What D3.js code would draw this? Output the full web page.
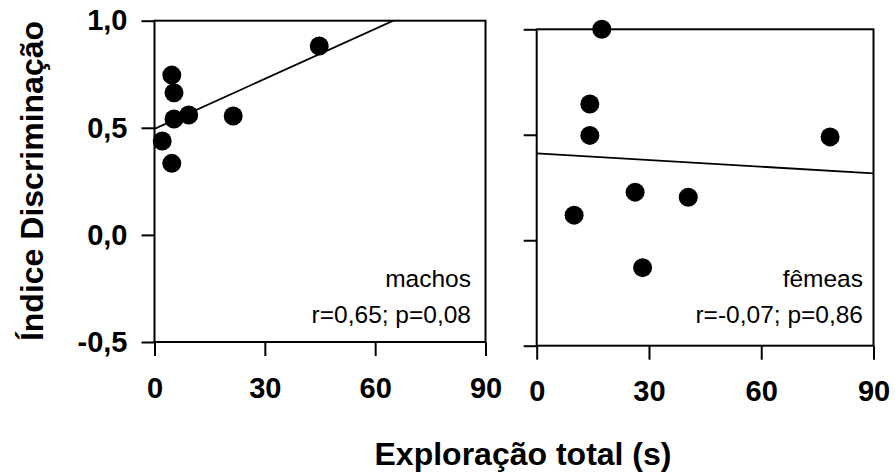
<!DOCTYPE html>
<html>
<head>
<meta charset="utf-8">
<script src="https://cdn.jsdelivr.net/npm/d3@7"></script>
<style>
  body { margin: 0; background: #fff; }
  text { font-family: "Liberation Sans", Arial, sans-serif; fill: #000; }
</style>
</head>
<body>
<div id="chart"></div>
<script>
// values
const machosX = [44.8, 4.7, 5.3, 5.3, 9.3, 21.4, 2.1, 4.7];
const machosY = [0.882, 0.746, 0.664, 0.541, 0.560, 0.555, 0.438, 0.334];
const femeasX = [17.4, 14.2, 14.2, 78.4, 26.3, 40.5, 10.0, 28.3];
const femeasY = [1.0, 0.646, 0.497, 0.490, 0.228, 0.204, 0.119, -0.130];

const xTicks = [0, 30, 60, 90];
const yTicks = [-0.5, 0, 0.5, 1.0];
const xDomain = [0, 90];
const yDomain = [-0.5, 1.0];

const panelNames = ["machos", "fêmeas"];
const statLabels = ["r=0,65; p=0,08", "r=-0,07; p=0,86"];

const width = 895;
const height = 474;

const ptBR = d3.formatLocale({decimal: ",", thousands: ".", grouping: [3], currency: ["", ""], minus: "-"});
const fmtY = ptBR.format(".1f");

const svg = d3.select("#chart").append("svg")
    .attr("width", width)
    .attr("height", height);

// least squares fit
function fit(xs, ys) {
    const mx = d3.mean(xs), my = d3.mean(ys);
    let sxy = 0, sxx = 0;
    xs.forEach((x, i) => { sxy += (x - mx) * (ys[i] - my); sxx += (x - mx) * (x - mx); });
    const b = sxy / sxx;
    return {a: my - b * mx, b: b};
}

function panel(id, xs, ys, box, showYLabels, name, stat) {
    const x = d3.scaleLinear().domain(xDomain).range([box.left, box.right]);
    const y = d3.scaleLinear().domain(yDomain).range([box.bottom, box.top]);
    const g = svg.append("g");

    g.append("clipPath").attr("id", "clip" + id)
        .append("rect")
        .attr("x", box.left).attr("y", box.top)
        .attr("width", box.right - box.left).attr("height", box.bottom - box.top);

    // regression line
    const f = fit(xs, ys);
    g.append("line")
        .attr("clip-path", "url(#clip" + id + ")")
        .attr("x1", x(xDomain[0])).attr("y1", y(f.a + f.b * xDomain[0]))
        .attr("x2", x(xDomain[1])).attr("y2", y(f.a + f.b * xDomain[1]))
        .attr("stroke", "#000").attr("stroke-width", 1.8);

    // points
    g.selectAll("circle.pt")
        .data(xs.map((v, i) => [v, ys[i]]))
        .join("circle")
        .attr("class", "pt")
        .attr("cx", d => x(d[0]))
        .attr("cy", d => y(d[1]))
        .attr("r", 9.5)
        .attr("fill", "#000");

    // frame
    g.append("rect")
        .attr("x", box.left).attr("y", box.top)
        .attr("width", box.right - box.left).attr("height", box.bottom - box.top)
        .attr("fill", "none").attr("stroke", "#000").attr("stroke-width", 2);

    const xAxis = g.append("g")
        .attr("transform", "translate(0," + box.bottom + ")")
        .call(d3.axisBottom(x).tickValues(xTicks).tickSize(14).tickPadding(21).tickFormat(d3.format("d")));
    xAxis.select(".domain").remove();
    xAxis.selectAll("line").attr("stroke-width", 2);
    xAxis.selectAll("text")
        .attr("font-size", 29).attr("font-weight", "bold")
        .attr("font-family", "'Liberation Sans', Arial, sans-serif");

    const yAxis = g.append("g")
        .attr("transform", "translate(" + box.left + ",0)")
        .call(d3.axisLeft(y).tickValues(yTicks).tickSize(13).tickPadding(14)
            .tickFormat(showYLabels ? fmtY : ""));
    yAxis.select(".domain").remove();
    yAxis.selectAll("line").attr("stroke-width", 2);
    yAxis.selectAll("text")
        .attr("font-size", 29).attr("font-weight", "bold")
        .attr("font-family", "'Liberation Sans', Arial, sans-serif");

    g.append("text")
        .attr("x", box.textRight).attr("y", 287)
        .attr("text-anchor", "end").attr("font-size", 24.5)
        .text(name);
    g.append("text")
        .attr("x", box.textRight).attr("y", 323)
        .attr("text-anchor", "end").attr("font-size", 24.5)
        .text(stat);
}

panel("L", machosX, machosY, {left: 154.5, right: 485.5, top: 20.7, bottom: 342, textRight: 471},
    true, panelNames[0], statLabels[0]);
panel("R", femeasX, femeasY, {left: 536.7, right: 873.5, top: 29.3, bottom: 345.7, textRight: 863},
    false, panelNames[1], statLabels[1]);

svg.append("text")
    .attr("x", 523).attr("y", 465)
    .attr("text-anchor", "middle")
    .attr("font-size", 32).attr("font-weight", "bold")
    .text("Exploração total (s)");

svg.append("text")
    .attr("transform", "translate(43,181) rotate(-90)")
    .attr("text-anchor", "middle")
    .attr("font-size", 32).attr("font-weight", "bold")
    .text("Índice Discriminação");
</script>
</body>
</html>
